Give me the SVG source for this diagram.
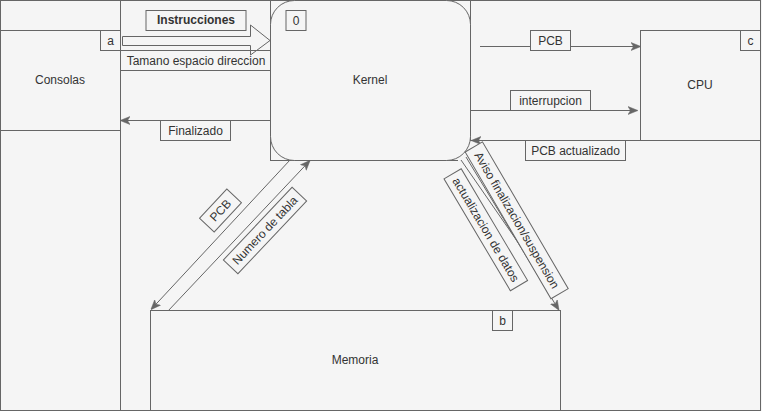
<svg xmlns="http://www.w3.org/2000/svg" width="762" height="411" viewBox="0 0 762 411">
<style>
.ln{stroke:#666666;stroke-width:1;fill:none}
.bx{stroke:#666666;stroke-width:1;fill:#f5f5f5}
.t{font-family:"Liberation Sans",Arial,sans-serif;font-size:12px;fill:#333333;text-anchor:middle;dominant-baseline:central}
.b{font-weight:bold}
</style>
<defs>
<marker id="ah" markerUnits="userSpaceOnUse" markerWidth="10" markerHeight="10" viewBox="0 0 10 10" refX="9" refY="5" orient="auto">
<path d="M0,1 L10,5 L0,9 L2.5,5 Z" fill="#666666" stroke="#666666" stroke-width="0.5"/>
</marker>
</defs>
<rect x="0" y="0" width="762" height="411" fill="#f5f5f5"/>
<g id="grid">
<rect class="ln" x="0.5" y="0.5" width="760" height="410"/>
<line class="ln" x1="120.5" y1="0" x2="120.5" y2="411"/>
<line class="ln" x1="120" y1="50.5" x2="270" y2="50.5"/>
<line class="ln" x1="120" y1="70.5" x2="270" y2="70.5"/>
<line class="ln" x1="270.5" y1="0" x2="270.5" y2="160.5"/>
<line class="ln" x1="270" y1="160.5" x2="458" y2="160.5"/>
<line class="ln" x1="470.5" y1="0" x2="470.5" y2="140.5"/>
<line class="ln" x1="470" y1="140.5" x2="761" y2="140.5"/>
</g>
<g id="consolas">
<rect class="bx" x="0.5" y="30.5" width="120" height="100"/>
<text class="t" x="60" y="80">Consolas</text>
<rect class="bx" x="100.5" y="30.5" width="20" height="20"/>
<text class="t" x="110.5" y="40.5">a</text>
</g>
<g id="kernel">
<rect class="bx" x="270.5" y="0.5" width="200" height="160" rx="24" ry="24"/>
<text class="t" x="370" y="80">Kernel</text>
<rect class="bx" x="286" y="10.5" width="20" height="20"/>
<text class="t" x="296" y="20.5">0</text>
</g>
<g id="cpu">
<rect class="bx" x="640.5" y="30.5" width="120" height="110"/>
<text class="t" x="700" y="85">CPU</text>
<rect class="bx" x="740.5" y="30.5" width="20" height="20"/>
<text class="t" x="750.5" y="40.5">c</text>
</g>
<g id="memoria">
<rect class="bx" x="150.5" y="310.5" width="410" height="100"/>
<text class="t" x="355" y="360">Memoria</text>
<rect class="bx" x="492.5" y="310.5" width="20" height="20"/>
<text class="t" x="502.5" y="320.5">b</text>
</g>
<g id="connectors">
<path class="ln" d="M122.5,36.5 L250.5,36.5 L250.5,25 L270,40.5 L250.5,55 L250.5,45.5 L122.5,45.5 Z" fill="#f5f5f5"/>
<line class="ln" x1="270" y1="120.5" x2="121" y2="120.5" marker-end="url(#ah)"/>
<line class="ln" x1="480" y1="46.5" x2="640" y2="46.5" marker-end="url(#ah)"/>
<line class="ln" x1="470" y1="110.5" x2="637" y2="110.5" marker-end="url(#ah)"/>
<line class="ln" x1="640" y1="140.5" x2="472" y2="140.5" marker-end="url(#ah)"/>
<line class="ln" x1="290" y1="160" x2="151.5" y2="309" marker-end="url(#ah)"/>
<line class="ln" x1="168" y1="311" x2="309.5" y2="161" marker-end="url(#ah)"/>
<line class="ln" x1="466" y1="157" x2="558.5" y2="309.5" marker-end="url(#ah)"/>
<line class="ln" x1="461" y1="160" x2="520.5" y2="246"/>
</g>
<g id="labels">
<rect class="bx" x="146" y="10.5" width="100" height="20"/>
<text class="t b" x="196" y="20">Instrucciones</text>
<text class="t" x="196" y="60.5">Tamano espacio direccion</text>
<rect class="bx" x="160.5" y="120.5" width="70" height="20"/>
<text class="t" x="195.5" y="130.5">Finalizado</text>
<rect class="bx" x="530.5" y="30.5" width="40" height="20"/>
<text class="t" x="550.5" y="40.5">PCB</text>
<rect class="bx" x="510.5" y="90.5" width="80" height="20"/>
<text class="t" x="550.5" y="100.5">interrupcion</text>
<rect class="bx" x="525.5" y="140.5" width="100" height="20"/>
<text class="t" x="575.5" y="150.5">PCB actualizado</text>
<g transform="translate(220.5,210.5) rotate(-47)">
<rect class="bx" x="-20" y="-10" width="40" height="20"/>
<text class="t" x="0" y="0">PCB</text>
</g>
<g transform="translate(265,230.5) rotate(-46.6)">
<rect class="bx" x="-50" y="-10" width="100" height="20"/>
<text class="t" x="0" y="0">Numero de tabla</text>
</g>
<g transform="translate(516.7,220.3) rotate(59.7)">
<rect class="bx" x="-85" y="-10" width="170" height="20"/>
<text class="t" x="0" y="0">Aviso finalizacion/suspension</text>
</g>
<g transform="translate(485.8,229.7) rotate(59.3)">
<rect class="bx" x="-65" y="-10" width="130" height="20"/>
<text class="t" x="0" y="0">actualizacion de datos</text>
</g>
</g>
</svg>
